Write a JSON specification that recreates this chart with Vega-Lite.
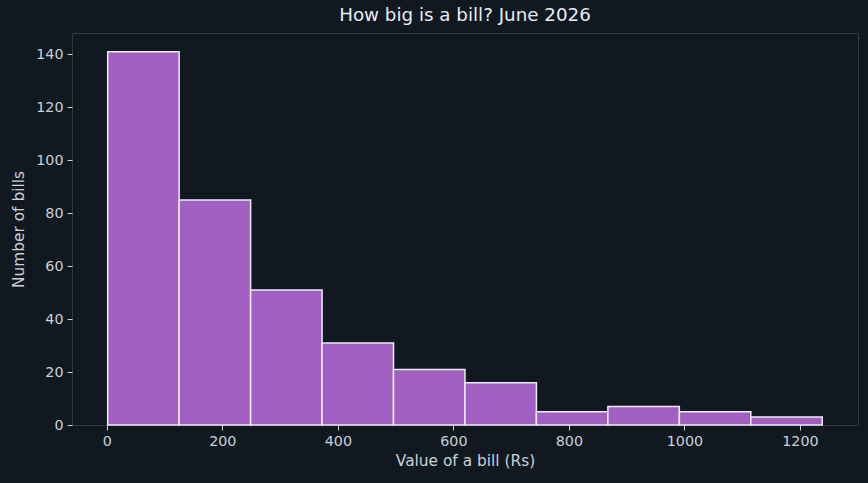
{
  "$schema": "https://vega.github.io/schema/vega-lite/v6.json",
  "width": 786,
  "height": 392,
  "autosize": {"type": "none"},
  "padding": {"left": 72, "top": 33, "right": 10, "bottom": 58},
  "background": "#111820",
  "title": {
    "text": "How big is a bill? June 2026",
    "font": "DejaVu Sans",
    "fontSize": 18.3,
    "fontWeight": "normal",
    "color": "#e6edf3",
    "offset": 8
  },
  "config": {
    "view": {"stroke": "#2b3a47", "strokeWidth": 1},
    "axis": {
      "labelFont": "DejaVu Sans",
      "titleFont": "DejaVu Sans",
      "labelFontSize": 14.3,
      "titleFontSize": 15.4,
      "titleFontWeight": "normal",
      "labelColor": "#c9d1d9",
      "titleColor": "#c9d1d9",
      "tickColor": "#c9d1d9",
      "tickSize": 5,
      "labelPadding": 4,
      "domain": false,
      "grid": false
    }
  },
  "data": {
    "values": [
      {"bin_start": 1.6, "bin_end": 125.3, "count": 141},
      {"bin_start": 125.3, "bin_end": 249.0, "count": 85},
      {"bin_start": 249.0, "bin_end": 372.7, "count": 51},
      {"bin_start": 372.7, "bin_end": 496.4, "count": 31},
      {"bin_start": 496.4, "bin_end": 620.1, "count": 21},
      {"bin_start": 620.1, "bin_end": 743.8, "count": 16},
      {"bin_start": 743.8, "bin_end": 867.5, "count": 5},
      {"bin_start": 867.5, "bin_end": 991.2, "count": 7},
      {"bin_start": 991.2, "bin_end": 1114.9, "count": 5},
      {"bin_start": 1114.9, "bin_end": 1238.6, "count": 3}
    ]
  },
  "mark": {"type": "rect", "fill": "#a15fc1", "stroke": "#ececf4", "strokeWidth": 1.5},
  "encoding": {
    "x": {
      "field": "bin_start",
      "type": "quantitative",
      "scale": {"domain": [-60.2, 1300.5], "nice": false, "zero": false},
      "axis": {"values": [0, 200, 400, 600, 800, 1000, 1200], "format": "d", "title": "Value of a bill (Rs)", "titlePadding": 5}
    },
    "x2": {"field": "bin_end"},
    "y": {
      "field": "count",
      "type": "quantitative",
      "scale": {"domain": [0, 148.05], "nice": false},
      "axis": {"values": [0, 20, 40, 60, 80, 100, 120, 140], "format": "d", "title": "Number of bills", "titlePadding": 9}
    },
    "y2": {"datum": 0}
  }
}
